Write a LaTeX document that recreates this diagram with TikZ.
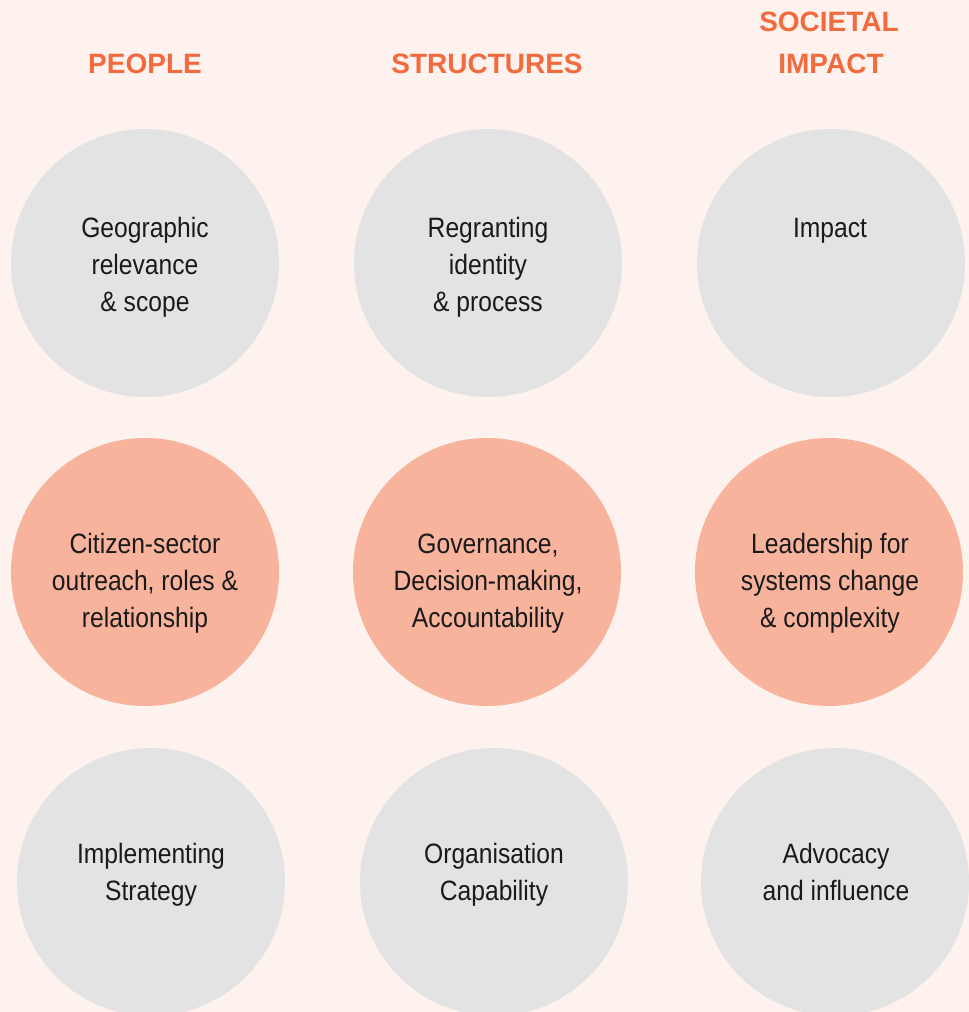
\documentclass[tikz,border=0pt]{standalone}
\usepackage{fontspec}
\setmainfont[FakeStretch=0.88]{Liberation Sans}
\newfontfamily\headfont{Liberation Sans}
\definecolor{bgc}{HTML}{FDF2EE}
\definecolor{greyc}{HTML}{E3E3E3}
\definecolor{salmonc}{HTML}{F7B39C}
\definecolor{headc}{HTML}{F26B3E}
\definecolor{txtc}{HTML}{1A1A1A}
\tikzset{
  gcirc/.style={circle,fill=greyc,draw=none,minimum size=268pt,inner sep=0pt},
  scirc/.style={circle,fill=salmonc,draw=none,minimum size=268pt,inner sep=0pt},
  lbl/.style={anchor=base,inner sep=0pt,text=txtc,font=\fontsize{28}{37}\selectfont},
  head/.style={anchor=base,inner sep=0pt,text=headc,font=\headfont\bfseries\fontsize{28}{34}\selectfont}
}
\begin{document}
\begin{tikzpicture}[x=1pt,y=-1pt]
\useasboundingbox (0,0) rectangle (969,1012);
\fill[bgc] (0,0) rectangle (969,1012);
\begin{scope}
\clip (0,0) rectangle (969,1012);
% headers
\node[head] (h1) at (145,73) {PEOPLE};
\node[head] (h2) at (487,73) {STRUCTURES};
\node[head] (h3a) at (829,31) {SOCIETAL};
\node[head] (h3b) at (831,73) {IMPACT};
% row 1
\node[gcirc] (c11) at (145,263) {};
\node[gcirc] (c12) at (488,263) {};
\node[gcirc] (c13) at (831,263) {};
% row 2
\node[scirc] (c21) at (145,572) {};
\node[scirc] (c22) at (487,572) {};
\node[scirc] (c23) at (829,572) {};
% row 3
\node[gcirc] (c31) at (151,882) {};
\node[gcirc] (c32) at (494,882) {};
\node[gcirc] (c33) at (835,882) {};
% texts row 1
\node[lbl] (t11a) at (145,237) {Geographic};
\node[lbl] (t11b) at (145,274) {relevance};
\node[lbl] (t11c) at (145,311) {\& scope};
\node[lbl] (t12a) at (488,237) {Regranting};
\node[lbl] (t12b) at (488,274) {identity};
\node[lbl] (t12c) at (488,311) {\& process};
\node[lbl] (t13a) at (830,237) {Impact};
% texts row 2
\node[lbl] (t21a) at (145,553) {Citizen-sector};
\node[lbl] (t21b) at (145,590) {outreach, roles \&};
\node[lbl] (t21c) at (145,627) {relationship};
\node[lbl] (t22a) at (488,553) {Governance,};
\node[lbl] (t22b) at (488,590) {Decision-making,};
\node[lbl] (t22c) at (488,627) {Accountability};
\node[lbl] (t23a) at (830,553) {Leadership for};
\node[lbl] (t23b) at (830,590) {systems change};
\node[lbl] (t23c) at (830,627) {\& complexity};
% texts row 3
\node[lbl] (t31a) at (151,863) {Implementing};
\node[lbl] (t31b) at (151,900) {Strategy};
\node[lbl] (t32a) at (494,863) {Organisation};
\node[lbl] (t32b) at (494,900) {Capability};
\node[lbl] (t33a) at (836,863) {Advocacy};
\node[lbl] (t33b) at (836,900) {and influence};
\end{scope}
\end{tikzpicture}
\end{document}
